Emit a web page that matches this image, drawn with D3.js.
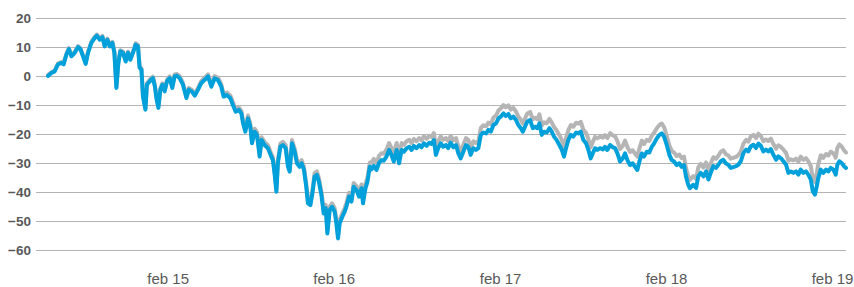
<!DOCTYPE html>
<html lang="nl">
<head>
  <meta charset="UTF-8">
  <title>Rendement</title>
  <script src="https://d3js.org/d3.v7.min.js"></script>
  <style>
    body {
      margin: 0;
      background: #fff;
    }
    svg {
      display: block;
    }
    .grid line {
      stroke: #b4b4b4;
      stroke-width: 1px;
      shape-rendering: crispEdges;
    }
    .grid text {
      fill: #595959;
      font-family: "Liberation Sans", Arial, sans-serif;
      font-size: 13.5px;
      font-weight: bold;
    }
    .xaxis text {
      fill: #595959;
      font-family: "Liberation Sans", Arial, sans-serif;
      font-size: 15px;
    }
    .domain {
      display: none;
    }
    .serie {
      fill: none;
      stroke-width: 4px;
      stroke-linejoin: round;
      stroke-linecap: round;
    }
  </style>
</head>
<body>
  <svg id="chart" width="854" height="287"></svg>

  <script>
    // dates as decimal years
    const dates = [
      2014.364, 2014.384, 2014.404, 2014.424, 2014.445, 2014.458, 2014.475, 2014.490,
      2014.505, 2014.525, 2014.545, 2014.559, 2014.575, 2014.591, 2014.605, 2014.625,
      2014.645, 2014.659, 2014.675, 2014.692, 2014.705, 2014.722, 2014.736, 2014.752,
      2014.764, 2014.776, 2014.788, 2014.800, 2014.816, 2014.832, 2014.846, 2014.860,
      2014.876, 2014.892, 2014.906, 2014.916, 2014.927, 2014.936, 2014.951, 2014.960,
      2014.977, 2014.996, 2015.008, 2015.017, 2015.029, 2015.041, 2015.053, 2015.067,
      2015.081, 2015.097, 2015.113, 2015.127, 2015.141, 2015.157, 2015.177, 2015.198,
      2015.213, 2015.230, 2015.248, 2015.268, 2015.288, 2015.308, 2015.328,
      2015.348, 2015.368, 2015.388, 2015.408, 2015.422, 2015.442, 2015.463, 2015.478,
      2015.495, 2015.514, 2015.529, 2015.539, 2015.553, 2015.569, 2015.583, 2015.593,
      2015.609, 2015.623, 2015.639, 2015.651, 2015.669, 2015.689, 2015.705, 2015.719,
      2015.731, 2015.740, 2015.749, 2015.764, 2015.779, 2015.796, 2015.810, 2015.820,
      2015.834, 2015.850, 2015.864, 2015.880, 2015.892, 2015.906, 2015.920, 2015.930,
      2015.945, 2015.957, 2015.970, 2015.984, 2015.996, 2016.011, 2016.025, 2016.037,
      2016.047, 2016.061, 2016.075, 2016.091, 2016.101, 2016.111, 2016.121, 2016.137,
      2016.151, 2016.161, 2016.177, 2016.192, 2016.205, 2016.222, 2016.237, 2016.252,
      2016.261, 2016.276, 2016.288, 2016.302,
      2016.312, 2016.326, 2016.342, 2016.358, 2016.372, 2016.386, 2016.402, 2016.418,
      2016.432, 2016.446, 2016.463, 2016.478, 2016.493, 2016.507, 2016.523, 2016.539,
      2016.553, 2016.567, 2016.583, 2016.599, 2016.613, 2016.627, 2016.643, 2016.659,
      2016.673, 2016.687, 2016.699, 2016.713, 2016.728, 2016.743, 2016.760, 2016.773,
      2016.788, 2016.804, 2016.820, 2016.834, 2016.848, 2016.864, 2016.880, 2016.894,
      2016.908, 2016.924, 2016.940, 2016.954, 2016.969, 2016.984, 2017.001, 2017.014,
      2017.029, 2017.045, 2017.061, 2017.075, 2017.089, 2017.105, 2017.119, 2017.135,
      2017.149, 2017.165, 2017.181, 2017.195, 2017.210, 2017.222, 2017.235, 2017.249,
      2017.266,
      2017.282, 2017.296, 2017.310, 2017.322, 2017.336, 2017.350, 2017.366, 2017.382,
      2017.396, 2017.410, 2017.426, 2017.442, 2017.457, 2017.470, 2017.482, 2017.496,
      2017.511, 2017.526, 2017.543, 2017.557, 2017.571, 2017.587, 2017.603, 2017.617,
      2017.631, 2017.643, 2017.657, 2017.671, 2017.687, 2017.704, 2017.717, 2017.731,
      2017.748, 2017.764, 2017.778, 2017.792, 2017.808, 2017.824, 2017.838, 2017.852,
      2017.868, 2017.884, 2017.898, 2017.912, 2017.924, 2017.939, 2017.952, 2017.969,
      2017.984, 2017.999, 2018.013, 2018.029, 2018.045, 2018.059, 2018.073, 2018.089,
      2018.105, 2018.119, 2018.133, 2018.149, 2018.165, 2018.179, 2018.193, 2018.205,
      2018.219, 2018.229,
      2018.249, 2018.266, 2018.279, 2018.294, 2018.310, 2018.326, 2018.340, 2018.354,
      2018.370, 2018.386, 2018.400, 2018.414, 2018.430, 2018.446, 2018.460, 2018.475,
      2018.490, 2018.507, 2018.520, 2018.535, 2018.551, 2018.567, 2018.581, 2018.595,
      2018.611, 2018.627, 2018.641, 2018.655, 2018.671, 2018.687, 2018.701, 2018.716,
      2018.731, 2018.748, 2018.761, 2018.776, 2018.792, 2018.808, 2018.822, 2018.836,
      2018.852, 2018.868, 2018.882, 2018.896, 2018.912, 2018.928, 2018.942, 2018.957,
      2018.969, 2018.982, 2018.993, 2019.002, 2019.017, 2019.032, 2019.049, 2019.063,
      2019.077, 2019.093, 2019.107, 2019.117, 2019.129, 2019.143, 2019.157, 2019.169
    ];

    const greyValues = [
      0.3, 1.3, 1.9, 4.3, 4.8, 4.3, 7.7, 9.6,
      7.1, 8.3, 10.3, 9.6, 7.1, 4.5, 8.3, 11.8,
      13.5, 14.3, 12.9, 13.8, 10.6, 12.9, 10.6, 11.8,
      8.4, -3.7, 4.9, 8.9, 8.4, 5.4, 8.4, 6,
      8.4, 11.3, 10.7, 3.3, 2.7, -6.5, -11.1, -2.5,
      -1.3, -0.2, -3.1, -7.1, -10.5, -4.2, -2.5, -4.8,
      -1.3, -0.1, -3.5, 0.5, 0.7, -0.1, -2.4, -7,
      -4.1, -4.7, -6.2, -4.1, -1.7, -0.6, 0.6,
      -2.9, 0, -0.6, -2.9, -6.2, -5.7, -6.8, -9.1,
      -11.4, -10.8, -12, -15.4, -18.3, -13.6, -16.5, -22.2,
      -18.2, -19.3, -26.8, -21.1, -22.8, -23.9, -26.2, -28,
      -33.7, -39, -29.1, -23.3, -22.7, -23.8, -30.2, -31.9,
      -22.1, -25, -29, -30.2, -29, -31.3, -37.1, -42.8,
      -43.4, -39.3, -33.5, -32.9, -35.2, -39.8, -46.2, -44.4,
      -53.2, -45, -43.9, -45.6, -49.6, -55, -49.6, -47.3,
      -45.6, -43.9, -40.3, -42, -36.9, -38, -40.3, -37.4,
      -42.6, -37.3, -35, -29.8,
      -29.8, -28.6, -30, -27.5, -26.6, -26.8, -25.4, -23.1,
      -24.8, -27.1, -23.1, -27.7, -23.1, -23.7, -22.5, -22,
      -23.1, -21.7, -22.5, -21.4, -22.2, -20.8, -21.7, -20.6,
      -21, -19.7, -24.8, -22.5, -20.8, -22, -21.4, -22.5,
      -20.6, -22.2, -21.4, -24.3, -26, -23.7, -21.4, -22,
      -24.8, -22.5, -23.1, -22.5, -17.9, -17, -17.3, -16.1,
      -16.7, -14.3, -13.6, -11.9, -11.2, -10, -10.8, -10.1,
      -11.6, -11, -12.3, -14, -15.1, -16.4, -14.7, -12.9,
      -12.4,
      -14.9, -14.4, -14.9, -13.2, -17.1, -16, -16.3, -14.8,
      -16, -17.6, -18.8, -20.4, -22.1, -24.4, -21.5, -18.7,
      -16.9, -17.5, -16.1, -16.4, -15.8, -18.6, -19.6, -21.8,
      -24.6, -22.8, -21, -21.5, -20.9, -21.3, -20.4, -21.4,
      -19.7, -20.5, -20.8, -22.5, -25.2, -24.1, -22.3, -24.5,
      -26.2, -25.6, -26.8, -27.8, -25, -22.3, -23.5, -22,
      -22.4, -20.6, -19.6, -18, -16.9, -16.4, -17.6, -20.6,
      -24, -25.8, -26.4, -27.6, -27.1, -28.3, -27.8, -31.8,
      -34.7, -35.8,
      -34.5, -35.5, -31.5, -30.3, -31.6, -29.8, -32.5, -30.2,
      -28, -28.6, -27.5, -26.2, -25.6, -27, -27.4, -28.5,
      -28.2, -27.9, -27.3, -26.1, -23.3, -22, -22.6, -20.9,
      -20.3, -21.4, -19.9, -20.6, -22.5, -21.9, -22.4, -21.6,
      -23.4, -25.1, -23.9, -24.4, -25.4, -26.5, -29.2, -28.7,
      -29.1, -28.5, -29.6, -27.8, -28.9, -28.3, -29.4, -31.1,
      -35.4, -36.5, -33.4, -30.4, -27.3, -28.2, -26.9, -27.4,
      -26.1, -26.6, -28.2, -24.8, -23.6, -24.3, -25.6, -26.4
    ];

    const blueValues = [
      0, 1, 1.6, 4, 4.5, 4, 7.4, 9.3,
      6.8, 8, 10, 9.3, 6.8, 4.2, 8, 11.4,
      13.1, 13.9, 12.5, 13.4, 10.2, 12.5, 10.2, 11.4,
      8, -4.1, 4.5, 8.5, 8, 5, 8, 5.6,
      8, 10.8, 10.2, 2.8, 2.2, -7, -11.6, -3,
      -1.8, -0.7, -3.6, -7.6, -11, -4.7, -3, -5.3,
      -1.8, -0.7, -4.1, -0.1, 0.1, -0.7, -3, -7.6,
      -4.7, -5.3, -6.8, -4.7, -2.4, -1.3, -0.1,
      -3.7, -0.8, -1.4, -3.7, -7.1, -6.6, -7.7, -10,
      -12.3, -11.7, -12.9, -16.3, -19.2, -14.6, -17.5, -23.2,
      -19.2, -20.3, -27.8, -22.1, -23.8, -24.9, -27.2, -29,
      -34.7, -39.9, -30.1, -24.4, -23.8, -24.9, -31.3, -33,
      -23.2, -26.1, -30.1, -31.3, -30.1, -32.4, -38.2, -43.9,
      -44.5, -40.5, -34.7, -34.1, -36.4, -41, -47.4, -45.6,
      -54.3, -46.2, -45.1, -46.8, -50.8, -56, -50.8, -48.5,
      -46.8, -45.1, -41.6, -43.3, -38.2, -39.3, -41.6, -38.7,
      -43.9, -38.7, -36.4, -31.3,
      -32.2, -31, -32.4, -29.9, -29, -29.2, -27.8, -25.5,
      -27.2, -29.5, -25.5, -30.1, -25.5, -26.1, -24.9, -24.4,
      -25.5, -24.1, -24.9, -23.8, -24.6, -23.2, -24.1, -23,
      -23.4, -22.1, -27.2, -24.9, -23.2, -24.4, -23.8, -24.9,
      -23, -24.6, -23.8, -26.7, -28.4, -26.1, -23.8, -24.4,
      -27.2, -24.9, -25.5, -24.9, -20.3, -19.5, -19.8, -18.6,
      -19.2, -16.9, -16.3, -14.6, -14, -12.9, -13.8, -13.1,
      -14.6, -14, -15.2, -16.9, -18, -19.2, -17.5, -15.7,
      -15.2,
      -18, -17.5, -18, -16.3, -20.3, -19.2, -19.5, -18,
      -19.2, -20.9, -22.1, -23.8, -25.5, -27.8, -24.9, -22.1,
      -20.3, -20.9, -19.5, -19.8, -19.2, -22.1, -23.2, -25.5,
      -28.4, -26.7, -24.9, -25.5, -24.9, -25.3, -24.4, -25.5,
      -23.8, -24.6, -24.9, -26.7, -29.5, -28.4, -26.7, -29,
      -30.7, -30.1, -31.3, -32.4, -29.5, -26.7, -27.8, -26.1,
      -26.4, -24.4, -23.2, -21.5, -20.3, -19.8, -20.9, -23.8,
      -27.2, -29, -29.5, -30.7, -30.1, -31.3, -30.7, -34.7,
      -37.6, -38.7,
      -37.5, -38.6, -34.6, -33.4, -34.6, -32.9, -35.7, -33.4,
      -31.1, -31.7, -30.6, -29.4, -28.9, -30.2, -30.6, -31.7,
      -31.4, -31.1, -30.6, -29.4, -26.6, -25.4, -26, -24.3,
      -23.7, -24.8, -23.3, -24, -26, -25.4, -26, -25.2,
      -27.1, -28.9, -27.7, -28.3, -29.4, -30.6, -33.4, -32.9,
      -33.4, -32.9, -34, -32.3, -33.4, -32.9, -34, -35.7,
      -39.8, -40.9, -38, -35.2, -32.3, -33.4, -32.3, -32.9,
      -31.7, -32.3, -34, -30.6, -29.4, -30, -31.1, -31.7
    ];

    const yTicks = [-60, -50, -40, -30, -20, -10, 0, 10, 20];
    const xTickDates = ["2015-02-01", "2016-02-01", "2017-02-01", "2018-02-01", "2019-02-01"];
    const xTickLabels = ["feb 15", "feb 16", "feb 17", "feb 18", "feb 19"];

    if (dates.length !== greyValues.length || dates.length !== blueValues.length) {
      console.error("length mismatch", dates.length, greyValues.length, blueValues.length);
    }

    // decimal year -> Date
    const toDate = t => {
      const yr = Math.floor(t);
      const a = Date.UTC(yr, 0, 1), b = Date.UTC(yr + 1, 0, 1);
      return new Date(a + (t - yr) * (b - a));
    };

    const svg = d3.select("#chart");
    const plotLeft = 36, plotRight = 846, plotTop = 18, plotBottom = 250;

    const x = d3.scaleUtc()
      .domain(d3.extent(dates).map(toDate))
      .range([48, plotRight]);

    const y = d3.scaleLinear()
      .domain([-60, 20])
      .range([plotBottom, plotTop]);

    // gridlines + y labels
    svg.append("g")
      .attr("class", "grid")
      .attr("transform", `translate(${plotLeft},0)`)
      .call(d3.axisLeft(y).tickValues(yTicks).tickSize(-(plotRight - plotLeft)).tickPadding(5))
      .selectAll("text").attr("dy", "0.34em");

    // x labels
    const tickDates = xTickDates.map(d => new Date(d + "T00:00:00Z"));
    svg.append("g")
      .attr("class", "xaxis")
      .attr("transform", `translate(0,${plotBottom})`)
      .call(d3.axisBottom(x).tickValues(tickDates).tickSize(0).tickPadding(23)
        .tickFormat((d, i) => xTickLabels[i]));

    const line = values => d3.line()
      .x((d, i) => x(toDate(dates[i])))
      .y(d => y(d))(values);

    svg.append("path")
      .attr("class", "serie")
      .attr("stroke", "#b5b5b5")
      .attr("d", line(greyValues));

    svg.append("path")
      .attr("class", "serie")
      .attr("stroke", "#00a0da")
      .attr("d", line(blueValues));
  </script>
</body>
</html>
